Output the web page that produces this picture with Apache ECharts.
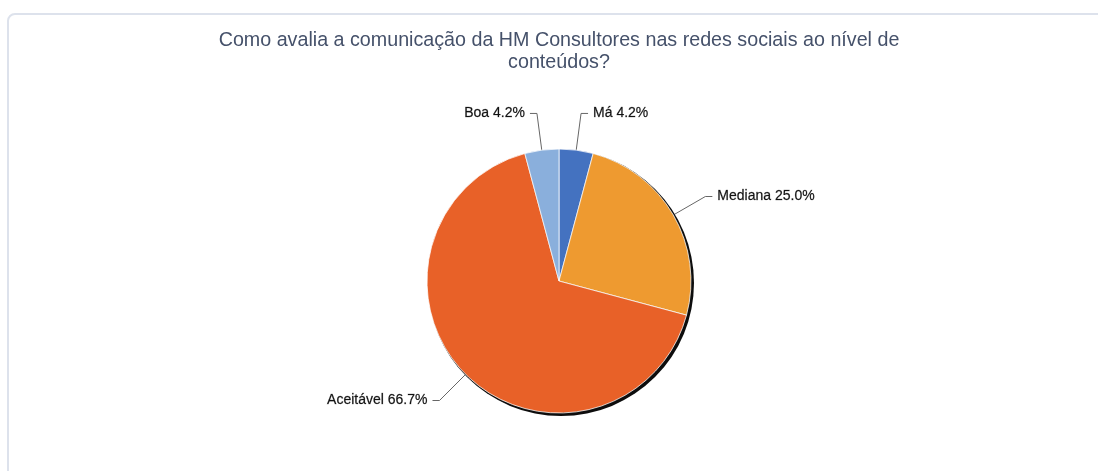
<!DOCTYPE html>
<html>
<head>
<meta charset="utf-8">
<script src="https://cdn.jsdelivr.net/npm/echarts@6/dist/echarts.min.js"></script>
<style>
  html, body { margin: 0; padding: 0; width: 1098px; height: 471px; overflow: hidden; background: #ffffff; }
  #card {
    position: absolute; left: 7px; top: 13px; width: 1110px; height: 480px;
    border: 2px solid #dde2ec; border-radius: 8px; box-sizing: border-box; background: #ffffff;
  }
  #chart { position: absolute; left: 0; top: 0; width: 1098px; height: 471px; }
</style>
</head>
<body>
<div id="card"></div>
<div id="chart"></div>
<script>
// Survey answers: rating of HM Consultores' social media content
const titleText = 'Como avalia a comunicação da HM Consultores nas redes sociais ao nível de\nconteúdos?';
const categories = ['Má', 'Mediana', 'Aceitável', 'Boa'];
const responses = [1, 6, 16, 1];
const sliceColors = ['#4472c0', '#ee9a30', '#e86128', '#8aafdc'];

const chart = echarts.init(document.getElementById('chart'), null, { renderer: 'canvas' });

const pieData = categories.map((name, i) => ({
  name: name,
  value: responses[i],
  itemStyle: { color: sliceColors[i] }
}));

chart.setOption({
  animation: false,
  backgroundColor: 'transparent',
  title: {
    text: titleText,
    left: 554,
    textAlign: 'center',
    top: 25,
    textStyle: {
      fontFamily: 'Liberation Sans, Arial, sans-serif',
      fontSize: 19.7,
      fontWeight: 'normal',
      color: '#45516a',
      lineHeight: 22
    }
  },
  series: [
    {
      // dark drop rim under the pie
      type: 'pie',
      silent: true,
      center: [561, 283],
      radius: 133,
      label: { show: false },
      labelLine: { show: false },
      itemStyle: { color: '#0d0d0d', borderWidth: 0 },
      emphasis: { disabled: true },
      data: [{ name: 'rim', value: 1 }]
    },
    {
      type: 'pie',
      center: [559, 281],
      radius: 132,
      startAngle: 90,
      clockwise: true,
      avoidLabelOverlap: false,
      itemStyle: { borderColor: 'rgba(255,255,255,0.75)', borderWidth: 1 },
      label: {
        show: true,
        position: 'outside',
        fontFamily: 'Liberation Sans, Arial, sans-serif',
        fontSize: 14,
        color: '#111111',
        textBorderColor: 'rgba(17,17,17,0.5)',
        textBorderWidth: 0.4,
        padding: [7, 0, 0, 0],
        formatter: p => p.name + ' ' + p.percent.toFixed(1) + '%'
      },
      labelLine: {
        show: true,
        length: 37,
        length2: 7,
        lineStyle: { color: '#666666', width: 1 }
      },
      emphasis: { disabled: true },
      data: pieData
    }
  ]
});
</script>
</body>
</html>
